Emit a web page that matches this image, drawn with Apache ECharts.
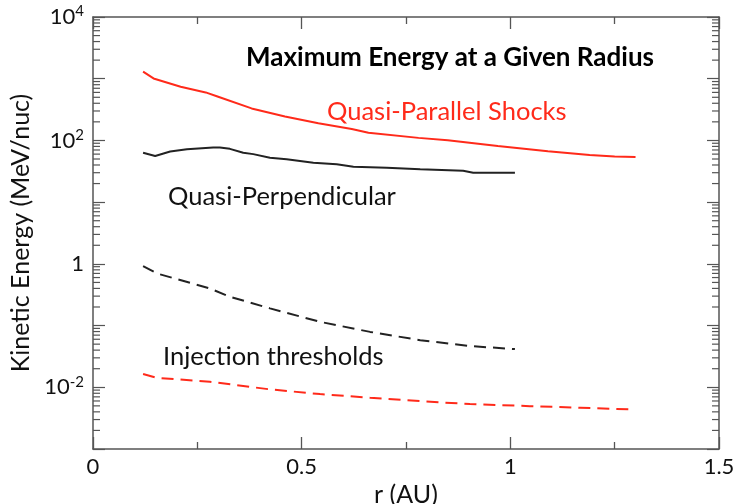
<!DOCTYPE html>
<html>
<head>
<meta charset="utf-8">
<script src="https://cdn.jsdelivr.net/npm/echarts@6/dist/echarts.min.js"></script>
<style>html,body{margin:0;padding:0;background:#fff}#c{width:733px;height:504px}</style>
</head>
<body>
<div id="c"></div>
<script>
// ---- data (r in AU, energy in MeV/nuc) ----
var parR   = [0.12, 0.145, 0.21, 0.27, 0.30, 0.38, 0.46, 0.54, 0.62, 0.66, 0.78, 0.85, 0.97, 1.09, 1.19, 1.25, 1.30];
var parE   = [1300, 1010, 740, 600, 510, 330, 245, 190, 153, 133, 110, 101, 81, 67, 58, 55, 54];

var perpR  = [0.12, 0.149, 0.185, 0.225, 0.288, 0.304, 0.328, 0.36, 0.384, 0.424, 0.464, 0.528, 0.584, 0.624, 0.704, 0.784, 0.887, 0.911, 1.011];
var perpE  = [63, 56, 66, 72, 77, 77, 73, 63, 60, 52.5, 49.4, 43.5, 41, 37.5, 36, 34, 32.3, 30, 30];

var injPerpR = [0.12, 0.153, 0.28, 0.328, 0.424, 0.544, 0.664, 0.784, 0.903, 1.011];
var injPerpE = [0.92, 0.70, 0.40, 0.293, 0.19, 0.115, 0.079, 0.058, 0.0466, 0.0416];

var injParR = [0.12, 0.153, 0.28, 0.424, 0.544, 0.664, 0.784, 0.903, 1.047, 1.167, 1.295];
var injParE = [0.0164, 0.01426, 0.01228, 0.00925, 0.00776, 0.00676, 0.00597, 0.00534, 0.00495, 0.00466, 0.00438];

var xTicks = [0, 0.5, 1, 1.5];
var yDecades = [-3, -2, -1, 0, 1, 2, 3, 4];

function zip(a, b) { return a.map(function (v, i) { return [v, b[i]]; }); }

// minor tick values (2..9 x 10^k) for the log axis
var minorVals = [];
yDecades.slice(0, -1).forEach(function (k) {
  for (var m = 2; m <= 9; m++) minorVals.push([m * Math.pow(10, k)]);
});

var FONT = 'Lato';
var axisColor = '#555';

var chart = echarts.init(document.getElementById('c'));
var xBase = {
  type: 'value', min: xTicks[0], max: xTicks[xTicks.length - 1], interval: 0.5,
  axisLine: { show: true, onZero: false, lineStyle: { color: axisColor, width: 1.5 } },
  axisTick: { show: true, inside: true, length: 12, lineStyle: { color: axisColor, width: 1.3 } },
  minorTick: { show: true, splitNumber: 2, length: 7, lineStyle: { color: axisColor, width: 1.3 } },
  splitLine: { show: false }, minorSplitLine: { show: false }
};
var yBase = {
  type: 'log', logBase: 10, min: Math.pow(10, yDecades[0]), max: Math.pow(10, yDecades[yDecades.length - 1]),
  splitNumber: 7,
  axisLine: { show: true, onZero: false, lineStyle: { color: axisColor, width: 1.5 } },
  axisTick: { show: true, inside: true, length: 12, lineStyle: { color: axisColor, width: 1.2 } },
  splitLine: { show: false }
};

chart.setOption({
  animation: false,
  textStyle: { fontFamily: FONT },
  grid: { left: 93, top: 17, right: 14, bottom: 55, containLabel: false, outerBoundsMode: 'none' },
  xAxis: [
    Object.assign({}, xBase, {
      position: 'bottom',
      name: 'r (AU)', nameLocation: 'middle', nameGap: 19,
      nameTextStyle: { fontSize: 25, color: '#111', fontFamily: FONT },
      axisLabel: { fontSize: 22, color: '#111', margin: 7, fontFamily: FONT,
        formatter: function (v) { return String(v); } }
    }),
    Object.assign({}, xBase, { position: 'top', axisLabel: { show: false } })
  ],
  yAxis: [
    Object.assign({}, yBase, {
      position: 'left',
      name: 'Kinetic Energy (MeV/nuc)', nameLocation: 'middle', nameGap: 47,
      nameTextStyle: { fontSize: 25, color: '#111', fontFamily: FONT },
      axisLabel: {
        fontSize: 22, color: '#111', margin: 9, fontFamily: FONT,
        formatter: function (v) {
          var e = Math.round(Math.log10(v));
          if (e % 2 !== 0) return '';
          if (e === 0) return '1';
          return '10{sup|' + e + '}';
        },
        rich: { sup: { fontSize: 15, color: '#111', verticalAlign: 'bottom', padding: [0, 0, 11, 0], fontFamily: FONT } }
      }
    }),
    Object.assign({}, yBase, { position: 'right', axisLabel: { show: false } })
  ],
  title: {
    text: 'Maximum Energy at a Given Radius',
    left: 445, top: 40, textAlign: 'center',
    textStyle: { fontSize: 26, fontWeight: 'bold', color: '#000', fontFamily: FONT }
  },
  graphic: [
    { type: 'text', left: 327, top: 99, style: { text: 'Quasi-Parallel Shocks', fill: '#ff2a1a', fontSize: 25.5, fontFamily: FONT } },
    { type: 'text', left: 168, top: 184, style: { text: 'Quasi-Perpendicular', fill: '#111', fontSize: 25.5, fontFamily: FONT } },
    { type: 'text', left: 163, top: 344, style: { text: 'Injection thresholds', fill: '#111', fontSize: 25.5, fontFamily: FONT } }
  ],
  series: [
    { type: 'line', data: zip(parR, parE), showSymbol: false, lineStyle: { color: '#ff2a1a', width: 2 } },
    { type: 'line', data: zip(perpR, perpE), showSymbol: false, lineStyle: { color: '#222', width: 2 } },
    { type: 'line', data: zip(injPerpR, injPerpE), showSymbol: false, lineStyle: { color: '#222', width: 2, type: [12, 7] } },
    { type: 'line', data: zip(injParR, injParE), showSymbol: false, lineStyle: { color: '#ff2a1a', width: 2, type: [12, 7] } },
    {
      type: 'custom', data: minorVals, silent: true, clip: false,
      encode: { y: 0 },
      renderItem: function (params, api) {
        var v = api.value(0);
        var pl = api.coord([xTicks[0], v]);
        var pr = api.coord([xTicks[xTicks.length - 1], v]);
        var st = { stroke: axisColor, lineWidth: 1.2 };
        return { type: 'group', children: [
          { type: 'line', shape: { x1: pl[0], y1: pl[1], x2: pl[0] + 7, y2: pl[1] }, style: st },
          { type: 'line', shape: { x1: pr[0], y1: pr[1], x2: pr[0] - 7, y2: pr[1] }, style: st }
        ] };
      }
    }
  ]
});
</script>
</body>
</html>
